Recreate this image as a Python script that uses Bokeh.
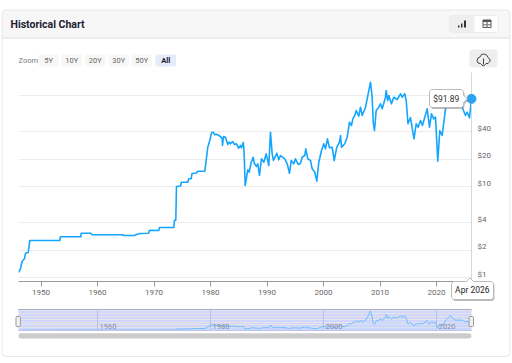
from bokeh.plotting import figure
from bokeh.layouts import column
from bokeh.models import (BoxAnnotation, PolyAnnotation, Label, FixedTicker, Range1d, Grid)
from bokeh.core.properties import value
from bokeh.embed import file_html
from bokeh.resources import INLINE

years = [1946.05,1946.35,1946.65,1947.06,1947.24,1947.72,1948.0,1953.31,1953.43,1957.03,1957.10,1958.74,1959.04,1964.35,1964.64,1966.53,1966.88,1967.47,1969.01,1969.19,1970.83,1970.96,1973.49,1973.61,1973.84,1973.96,1974.67,1974.85,1975.96,1976.14,1976.57,1976.71,1977.50,1977.73,1978.97,1979.15,1979.50,1979.86,1980.16,
1980.46,1980.74,1981.04,1981.75,1982.05,1982.11,1982.28,1982.64,1983.04,1983.29,1983.52,1983.88,1984.23,1984.58,1984.94,1985.29,1985.47,1985.77,1985.88,1986.00,1986.12,1986.23,1986.58,1986.83,1987.19,1987.54,1987.77,1988.12,1988.35,1988.65,1989.01,1989.42,1989.84,1990.30,1990.60,1990.90,1991.13,1991.72,1992.07,1992.37,1993.13,1993.56,1993.96,1994.27,1994.73,1995.03,1995.50,1995.91,1996.21,1996.67,1996.85,1997.20,1997.68,1997.98,1998.44,1998.80,1999.15,1999.63,2000.04,2000.34,2000.69,2001.04,2001.52,2001.88,2002.34,2002.81,2002.99,2003.17,2003.75,2004.18,2004.58,2004.94,2005.17,2005.52,2005.77,2006.23,2006.53,2006.83,2007.42,2007.72,2008.30,2008.60,2008.78,2009.01,2009.31,2009.77,2010.07,2010.37,2010.96,2011.08,2011.36,2011.54,2012.02,2012.42,2013.03,2013.61,2013.91,2014.37,2014.62,2014.94,2015.38,2016.00,2016.39,2016.74,2017.15,2017.50,2018.34,2018.74,2019.10,2019.50,2019.81,2020.21,2020.57,2020.99,2021.58,2021.93,2022.46,2022.99,2023.35,2024.53,2025.12,2025.42,2025.82,2026.18]
prices = [1.14,1.25,1.51,1.61,1.85,1.88,2.55,2.55,2.80,2.80,3.07,3.07,2.95,2.95,2.89,2.89,2.97,3.04,3.07,3.31,3.29,3.54,3.54,4.26,4.26,10.0,10.13,11.15,11.15,12.15,12.2,13.9,14.08,14.73,14.73,17.76,27.03,32.03,38.91,
39.51,36.99,37.56,35.44,33.43,28.22,35.44,34.81,28.94,30.68,29.46,31.23,28.94,29.46,26.36,28.22,26.62,30.45,27.03,17.76,10.26,11.15,15.26,14.36,18.49,20.99,17.76,16.59,17.76,13.21,20.16,18.49,22.87,17.01,39.51,22.87,19.31,23.22,19.65,21.91,20.16,17.76,14.0,19.31,17.76,20.16,17.45,18.03,20.99,21.91,25.96,20.16,19.31,15.65,14.36,11.44,18.49,24.87,29.46,25.96,33.43,26.62,27.03,19.31,27.03,30.68,36.34,27.03,29.46,34.81,50.89,46.81,55.46,60.29,68.42,59.23,74.38,60.29,74.38,91.99,140.01,95.79,50.89,41.25,68.42,74.38,81.06,71.42,95.79,113.49,88.12,100.0,81.06,95.79,90.37,104.4,95.79,104.4,88.12,48.87,57.31,33.43,48.87,44.84,53.12,46.81,71.42,44.84,62.94,55.46,57.75,18.97,41.25,36.34,71.42,88.12,107.89,81.67,74.38,74.38,60.29,65.54,56.88,91.89]
grid_ticks = [1, 2, 4, 10, 20, 40, 100]
y_ticks = [1, 2, 4, 10, 20, 40]
y_labels = ["$1", "$2", "$4", "$10", "$20", "$40"]
x_ticks = [1950, 1960, 1970, 1980, 1990, 2000, 2010, 2020]
nav_ticks = [1960, 1980, 2000, 2020]
zoom_buttons = ["5Y", "10Y", "20Y", "30Y", "50Y", "All"]
title = "Historical Chart"
last_price_label = "$91.89"
last_date_label = "Apr 2026"

FONT = "Roboto"
BLUE = "#14a5ff"
X0, X1 = 1946.0, 2026.18
H1 = 305
H2 = 58


def at(left, top):
    return {"position": "absolute", "left": f"{left}px", "top": f"{top}px"}


# main chart
p = figure(width=512, height=H1, output_backend="svg", toolbar_location=None,
           y_axis_type="log", x_range=Range1d(X0, X1), y_range=Range1d(0.904, 179),
           y_axis_location="right", min_border_left=18, min_border_right=41,
           min_border_top=72, min_border_bottom=24, outline_line_color=None,
           styles=at(0, 0), frame_align=False)
p.line(years, prices, line_color=BLUE, line_width=1.6, line_join="round")

ax = p.yaxis[0]
ax.ticker = FixedTicker(ticks=grid_ticks)
ax.major_label_overrides = {t: "" for t in grid_ticks}
ax.major_tick_line_color = None
ax.minor_tick_line_color = None
ax.axis_line_color = "#d8d8d8"
p.ygrid.ticker = FixedTicker(ticks=grid_ticks)
p.ygrid.grid_line_color = "#ececec"
p.xgrid.visible = False

bx = p.xaxis[0]
bx.ticker = FixedTicker(ticks=x_ticks)
bx.major_label_overrides = {t: str(t) for t in x_ticks}
bx.minor_tick_line_color = None
bx.major_tick_in = 0
bx.major_tick_out = 5
bx.major_tick_line_color = "#999999"
bx.axis_line_color = "#999999"
bx.major_label_text_font = FONT
bx.major_label_text_font_size = "8px"
bx.major_label_text_color = "#666666"
bx.major_label_standoff = 3

# navigator
n = figure(width=512, height=H2, output_backend="svg", toolbar_location=None,
           x_range=Range1d(X0, X1), y_range=Range1d(0, 150),
           x_axis_location=None, y_axis_location=None, min_border_left=18, min_border_right=41,
           min_border_top=4, min_border_bottom=33, outline_line_color=None,
           background_fill_color="#d0d6ff", styles=at(0, H1), frame_align=False)
n.add_layout(Grid(dimension=0, ticker=FixedTicker(ticks=nav_ticks), grid_line_color="#b9bfeb"))
n.varea(years, [0] * len(years), prices, fill_color="#bcd8ff", fill_alpha=0.3)
n.line(years, prices, line_color="#70bcff", line_width=1)
n.text(nav_ticks, [8] * len(nav_ticks), [str(t) for t in nav_ticks], x_offset=2,
       text_font_size="7.5px", text_color="#8a8a9a", text_baseline="bottom", text_font=value(FONT))

# transparent full-page layer: same scales as the chart, frame = whole canvas
px_per_year = 453 / (X1 - X0)
px_per_decade = 209 / 2.2966
c = figure(width=512, height=363, output_backend="svg", toolbar_location=None,
           x_range=Range1d(X0 - 18 / px_per_year, X0 + 494 / px_per_year),
           y_range=Range1d(179 / 10 ** ((363 - 72) / px_per_decade), 179 * 10 ** (72 / px_per_decade)),
           y_axis_type="log", x_axis_location=None, y_axis_location=None,
           min_border=0, min_border_left=0, min_border_right=0, min_border_top=0, min_border_bottom=0,
           outline_line_color=None, background_fill_color=None, border_fill_color=None,
           styles=at(0, 0), frame_align=False)
c.grid.visible = False

# y tick labels sit just above their grid lines
c.text([X1] * len(y_ticks), y_ticks, y_labels, x_offset=6, y_offset=-3.5,
       text_font=value(FONT), text_font_size="8px", text_color="#666666",
       text_baseline="middle", text_align="left")


def box(l, r, t, b, fill=None, line=None, radius=0, lw=1):
    c.add_layout(BoxAnnotation(left=l, right=r, top=t, bottom=b,
                               left_units="canvas", right_units="canvas",
                               top_units="canvas", bottom_units="canvas",
                               fill_color=fill, fill_alpha=1 if fill else 0,
                               line_color=line, line_alpha=1 if line else 0,
                               line_width=lw, border_radius=radius))


def poly(pts, fill=None, line=None, lw=1, alpha=1.0):
    c.add_layout(PolyAnnotation(xs=[a for a, _ in pts], ys=[b for _, b in pts],
                                xs_units="canvas", ys_units="canvas",
                                fill_color=fill, fill_alpha=alpha if fill else 0,
                                line_color=line, line_alpha=alpha if line else 0,
                                line_width=lw))


def label(x, y, text, size, color, bold=False, align="left"):
    c.add_layout(Label(x=x, y=y, x_units="canvas", y_units="canvas", text=text,
                       text_font=FONT, text_font_size=f"{size}px", text_color=color,
                       text_font_style="bold" if bold else "normal",
                       text_align=align, text_baseline="middle"))


# card and header
box(1.5, 509.5, 37.5, 9.5, fill="#f7f7f7")
box(1.5, 509.5, 356, 9.5, line="#e8e8e8", radius=4)
box(1.5, 509.5, 37.5, 37.5, line="#e8e8e8")
label(10, 23.5, title, 10.5, "#1b2033", bold=True)

# view toggle
box(449, 498, 32, 15, fill="#ffffff", line="#ececec", radius=3)
box(449, 474, 32, 15, fill="#eeeeee", radius=3)
box(457.5, 459, 27, 25, fill="#333333")
box(460.5, 462, 27, 23, fill="#333333")
box(463.5, 465.5, 27, 20, fill="#333333")
box(482.5, 490.5, 27, 19.5, line="#555555")
box(482.5, 490.5, 21.5, 19.5, fill="#555555")
box(482.5, 490.5, 24.2, 24.2, line="#888888")
box(486.5, 486.5, 27, 21.5, line="#888888")

# download button
box(469, 497, 67, 49, fill="#eeeeee", radius=3)
poly([(480, 63), (477.5, 62.5), (476.5, 60), (477.5, 57.5), (479.5, 56.5), (481, 54), (484, 53.5),
      (486.5, 55), (487.5, 57), (489.3, 58.5), (489.5, 61), (487.5, 63), (485.5, 63), (483, 65.5), (482.5, 65.5)],
     line="#444444")
poly([(483, 58), (483, 64)], line="#444444")

# range buttons
label(18, 60.3, "Zoom", 7.5, "#777777")
zoom_lefts = [38, 61, 84.5, 108, 131, 155]
for name, left in zip(zoom_buttons, zoom_lefts):
    sel = name == "All"
    box(left, left + 20.5, 66, 54, fill="#e6ebfa" if sel else "#f7f7f7", radius=2)
    label(left + 10.2, 60.3, name, 7.5, "#1b2033" if sel else "#666666", bold=sel, align="center")

# end-of-series marker
c.scatter(years[-1:], prices[-1:], size=9, fill_color="#2ba3f5", line_color="#2ba3f5")


# tooltips
def tooltip_right(dx, dy, fill, line, alpha=1.0):
    pts = [(431, 89), (461, 89), (463, 91), (463, 95), (467, 98.3), (463, 102), (463, 105), (461, 107), (431, 107), (429, 105), (429, 91)]
    poly([(a + dx, b + dy) for a, b in pts], fill=fill, line=line, alpha=alpha)


def tooltip_bottom(dx, dy, fill, line, alpha=1.0):
    pts = [(453, 281), (466, 281), (469.5, 277.5), (473, 281), (491, 281), (493, 283), (493, 297), (491, 299), (453, 299), (451, 297), (451, 283)]
    poly([(a + dx, b + dy) for a, b in pts], fill=fill, line=line, alpha=alpha)


tooltip_right(1, 1.5, "#777777", None, alpha=0.5)
tooltip_right(0, 0, "#ffffff", "#bbbbbb")
label(445.8, 98.3, last_price_label, 8.5, "#333333", align="center")
tooltip_bottom(1, 1.5, "#777777", None, alpha=0.5)
tooltip_bottom(0, 0, "#ffffff", "#bbbbbb")
label(471.8, 289.3, last_date_label, 8.5, "#222222", align="center")

# navigator frame, scrollbar, handles
box(18, 471, 309, 309, line="#a9adc9")
box(18, 471, 330, 330, line="#c0c4e8")
box(18, 471, 338, 332.7, fill="#cccccc", radius=3)
for cx in (17.7, 470.8):
    box(cx - 2.2, cx + 2.2, 326, 316, fill="#f2f2f2", line="#999999", radius=1)

layout = column(p, n, c, width=512, height=363, styles=at(0, 0))
open("out.html", "w").write(file_html(layout, INLINE))
